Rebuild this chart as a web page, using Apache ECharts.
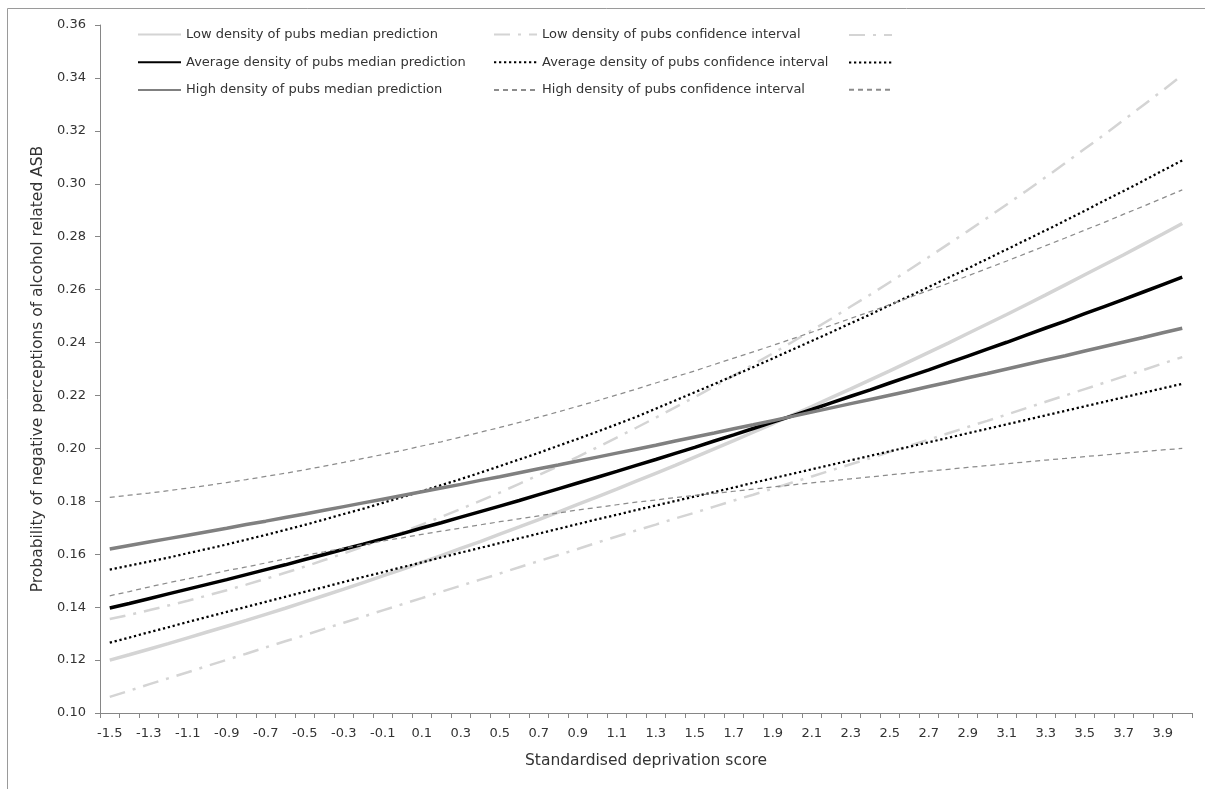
<!DOCTYPE html>
<html><head><meta charset="utf-8">
<script src="https://cdn.jsdelivr.net/npm/echarts@6/dist/echarts.min.js"></script>
<style>html,body{margin:0;padding:0;background:#fff}#c{width:1205px;height:789px}</style>
</head><body><div id="c"></div>
<script>
const categories = ['-1.5','-1.4','-1.3','-1.2','-1.1','-1.0','-0.9','-0.8','-0.7','-0.6','-0.5','-0.4','-0.3','-0.2','-0.1','0.0','0.1','0.2','0.3','0.4','0.5','0.6','0.7','0.8','0.9','1.0','1.1','1.2','1.3','1.4','1.5','1.6','1.7','1.8','1.9','2.0','2.1','2.2','2.3','2.4','2.5','2.6','2.7','2.8','2.9','3.0','3.1','3.2','3.3','3.4','3.5','3.6','3.7','3.8','3.9','4.0'];

const lowMedian = [0.1200,0.1220,0.1241,0.1262,0.1284,0.1306,0.1328,0.1350,0.1373,0.1396,0.1420,0.1444,0.1468,0.1493,0.1518,0.1543,0.1569,0.1595,0.1622,0.1648,0.1676,0.1703,0.1731,0.1759,0.1788,0.1817,0.1846,0.1876,0.1906,0.1936,0.1967,0.1998,0.2029,0.2061,0.2093,0.2126,0.2158,0.2192,0.2225,0.2259,0.2293,0.2328,0.2363,0.2398,0.2434,0.2470,0.2506,0.2543,0.2580,0.2618,0.2656,0.2694,0.2732,0.2771,0.2810,0.2850];
const lowUpper = [0.1355,0.1371,0.1388,0.1406,0.1424,0.1444,0.1464,0.1485,0.1507,0.1530,0.1553,0.1578,0.1603,0.1629,0.1656,0.1683,0.1712,0.1741,0.1771,0.1802,0.1833,0.1866,0.1899,0.1933,0.1968,0.2004,0.2041,0.2078,0.2116,0.2155,0.2194,0.2234,0.2275,0.2317,0.2359,0.2402,0.2446,0.2490,0.2536,0.2581,0.2628,0.2675,0.2723,0.2772,0.2821,0.2871,0.2922,0.2973,0.3025,0.3078,0.3132,0.3186,0.3241,0.3297,0.3353,0.3410];
const lowLower = [0.1061,0.1084,0.1108,0.1131,0.1154,0.1178,0.1201,0.1224,0.1248,0.1271,0.1294,0.1318,0.1341,0.1364,0.1388,0.1411,0.1434,0.1458,0.1481,0.1504,0.1527,0.1551,0.1574,0.1597,0.1620,0.1644,0.1667,0.1690,0.1712,0.1735,0.1757,0.1780,0.1803,0.1825,0.1848,0.1871,0.1894,0.1917,0.1940,0.1963,0.1987,0.2010,0.2033,0.2057,0.2081,0.2104,0.2128,0.2152,0.2176,0.2200,0.2224,0.2248,0.2272,0.2296,0.2321,0.2345];

const avgMedian = [0.1397,0.1414,0.1432,0.1450,0.1468,0.1486,0.1504,0.1523,0.1542,0.1560,0.1580,0.1599,0.1619,0.1638,0.1658,0.1678,0.1699,0.1719,0.1740,0.1761,0.1782,0.1803,0.1825,0.1847,0.1869,0.1891,0.1913,0.1936,0.1958,0.1981,0.2004,0.2028,0.2051,0.2075,0.2099,0.2123,0.2147,0.2172,0.2197,0.2221,0.2247,0.2272,0.2297,0.2323,0.2349,0.2375,0.2401,0.2428,0.2455,0.2481,0.2509,0.2536,0.2563,0.2591,0.2619,0.2647];
const avgUpper = [0.1542,0.1557,0.1572,0.1587,0.1604,0.1620,0.1637,0.1655,0.1673,0.1692,0.1711,0.1731,0.1752,0.1772,0.1794,0.1816,0.1838,0.1861,0.1884,0.1908,0.1933,0.1958,0.1983,0.2010,0.2036,0.2063,0.2091,0.2119,0.2150,0.2181,0.2212,0.2243,0.2275,0.2307,0.2340,0.2373,0.2406,0.2439,0.2473,0.2506,0.2541,0.2575,0.2610,0.2645,0.2680,0.2716,0.2752,0.2788,0.2824,0.2861,0.2898,0.2936,0.2973,0.3011,0.3050,0.3088];
const avgLower = [0.1266,0.1285,0.1305,0.1324,0.1344,0.1363,0.1382,0.1401,0.1420,0.1439,0.1458,0.1476,0.1495,0.1514,0.1532,0.1551,0.1569,0.1588,0.1606,0.1624,0.1642,0.1660,0.1678,0.1696,0.1714,0.1732,0.1749,0.1767,0.1784,0.1801,0.1818,0.1835,0.1852,0.1870,0.1887,0.1904,0.1921,0.1938,0.1955,0.1972,0.1989,0.2006,0.2023,0.2040,0.2057,0.2074,0.2091,0.2108,0.2125,0.2142,0.2159,0.2176,0.2193,0.2210,0.2227,0.2244];

const highMedian = [0.1620,0.1633,0.1646,0.1659,0.1672,0.1685,0.1698,0.1712,0.1725,0.1739,0.1752,0.1766,0.1780,0.1794,0.1808,0.1822,0.1836,0.1850,0.1864,0.1879,0.1893,0.1908,0.1923,0.1937,0.1952,0.1967,0.1982,0.1997,0.2012,0.2028,0.2043,0.2058,0.2074,0.2089,0.2105,0.2121,0.2137,0.2153,0.2169,0.2185,0.2201,0.2217,0.2234,0.2250,0.2267,0.2283,0.2300,0.2317,0.2334,0.2350,0.2368,0.2385,0.2402,0.2419,0.2437,0.2454];
const highUpper = [0.1815,0.1823,0.1831,0.1840,0.1850,0.1860,0.1871,0.1882,0.1894,0.1906,0.1919,0.1933,0.1947,0.1962,0.1977,0.1992,0.2009,0.2025,0.2043,0.2061,0.2079,0.2098,0.2118,0.2138,0.2159,0.2180,0.2202,0.2224,0.2247,0.2270,0.2293,0.2317,0.2341,0.2365,0.2389,0.2414,0.2439,0.2465,0.2491,0.2517,0.2543,0.2570,0.2597,0.2624,0.2652,0.2680,0.2708,0.2737,0.2766,0.2795,0.2825,0.2854,0.2885,0.2915,0.2946,0.2977];
const highLower = [0.1443,0.1459,0.1476,0.1492,0.1507,0.1522,0.1538,0.1552,0.1567,0.1582,0.1596,0.1609,0.1623,0.1636,0.1650,0.1662,0.1675,0.1687,0.1699,0.1711,0.1723,0.1734,0.1745,0.1756,0.1767,0.1777,0.1787,0.1797,0.1805,0.1814,0.1822,0.1830,0.1838,0.1846,0.1854,0.1862,0.1870,0.1877,0.1885,0.1892,0.1900,0.1907,0.1914,0.1921,0.1928,0.1935,0.1942,0.1949,0.1956,0.1962,0.1969,0.1975,0.1982,0.1988,0.1994,0.2000];

const yMin = 0.10, yMax = 0.36, yStep = 0.02;

const N = {
  lm: 'Low density of pubs median prediction',
  lc: 'Low density of pubs confidence interval',
  ll: 'Low density of pubs confidence interval (lower)',
  am: 'Average density of pubs median prediction',
  ac: 'Average density of pubs confidence interval',
  al: 'Average density of pubs confidence interval (lower)',
  hm: 'High density of pubs median prediction',
  hc: 'High density of pubs confidence interval',
  hl: 'High density of pubs confidence interval (lower)'
};

const FONT = 'DejaVu Sans';
const TXT = '#333333';
const AX = '#868686';

const lightCol = '#d4d4d4', grayCol = '#808080', dashCol = '#8c8c8c';
const styles = {
  lowMed: {color: lightCol, width: 3.5, type: 'solid'},
  lowCI: {color: lightCol, width: 2.5, type: [16, 8, 3, 8], cap: 'butt'},
  avgMed: {color: '#000000', width: 3.5, type: 'solid'},
  avgCI: {color: '#000000', width: 2.25, type: [2.25, 2.75], cap: 'butt'},
  highMed: {color: grayCol, width: 3.5, type: 'solid'},
  highCI: {color: dashCol, width: 1.25, type: [5, 4], cap: 'butt'}
};

function mk(name, data, st) {
  return {
    name: name, type: 'line', data: data, symbol: 'none', showSymbol: false,
    smooth: false, animation: false,
    lineStyle: st, itemStyle: {color: st.color},
    emphasis: {disabled: true}
  };
}

const legendBase = {
  orient: 'vertical', top: 28, itemWidth: 43, itemHeight: 14, itemGap: 14.8,
  selectedMode: false, padding: 0,
  itemStyle: {opacity: 0},
  textStyle: {fontFamily: FONT, fontSize: 13, color: TXT}
};

const chart = echarts.init(document.getElementById('c'), null, {renderer: 'canvas'});
chart.setOption({
  animation: false,
  backgroundColor: '#ffffff',
  graphic: [{
    type: 'rect', shape: {x: 7.5, y: 8.5, width: 1400, height: 1000},
    style: {fill: 'none', stroke: '#9a9a9a', lineWidth: 1}, silent: true
  }],
  grid: {left: 100, right: 13, top: 25, bottom: 76, containLabel: false},
  legend: [
    Object.assign({}, legendBase, {left: 137, data: [N.lm, N.am, N.hm]}),
    Object.assign({}, legendBase, {left: 493, data: [N.lc, N.ac, N.hc]}),
    Object.assign({}, legendBase, {left: 848, data: [N.ll, N.al, N.hl], formatter: function () { return ''; }})
  ],
  xAxis: {
    type: 'category', data: categories, boundaryGap: true,
    name: 'Standardised deprivation score', nameLocation: 'middle', nameGap: 40,
    nameTextStyle: {fontFamily: FONT, fontSize: 15.5, color: TXT},
    axisLine: {lineStyle: {color: AX, width: 1}},
    axisTick: {show: true, interval: 0, length: 5, lineStyle: {color: AX}},
    axisLabel: {interval: 1, margin: 14, fontFamily: FONT, fontSize: 13, color: TXT},
    splitLine: {show: false}
  },
  yAxis: {
    type: 'value', min: yMin, max: yMax, interval: yStep,
    name: 'Probability of negative perceptions of alcohol related ASB',
    nameLocation: 'middle', nameGap: 50,
    nameTextStyle: {fontFamily: FONT, fontSize: 15.5, color: TXT},
    axisLine: {show: true, lineStyle: {color: AX, width: 1}},
    axisTick: {show: true, length: 5, lineStyle: {color: AX}},
    axisLabel: {margin: 14, fontFamily: FONT, fontSize: 13, color: TXT,
      formatter: function (v) { return v.toFixed(2); }},
    splitLine: {show: false}
  },
  series: [
    mk(N.lm, lowMedian, styles.lowMed),
    mk(N.lc, lowUpper, styles.lowCI),
    mk(N.ll, lowLower, styles.lowCI),
    mk(N.am, avgMedian, styles.avgMed),
    mk(N.ac, avgUpper, styles.avgCI),
    mk(N.al, avgLower, styles.avgCI),
    mk(N.hm, highMedian, styles.highMed),
    mk(N.hc, highUpper, styles.highCI),
    mk(N.hl, highLower, styles.highCI)
  ]
});
</script>
</body></html>
